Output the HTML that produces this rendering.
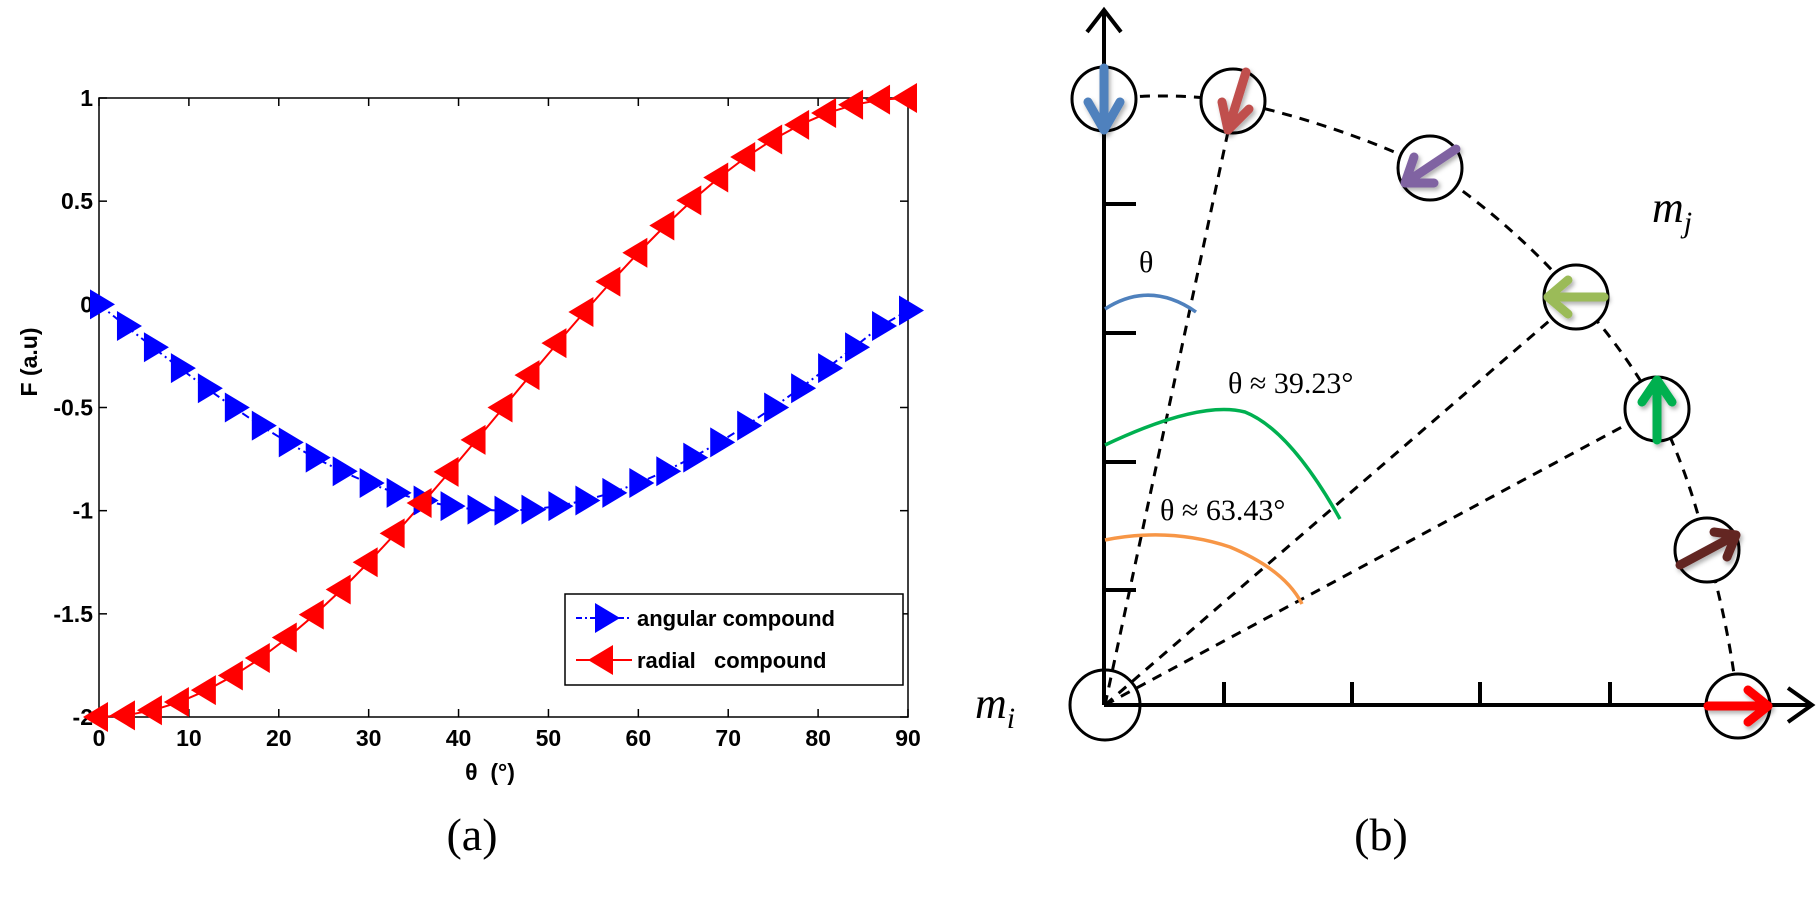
<!DOCTYPE html>
<html><head><meta charset="utf-8">
<style>
html,body{margin:0;padding:0;background:#fff;}
svg{display:block;}
.tk{font-family:"Liberation Sans",sans-serif;font-weight:bold;font-size:23px;fill:#000;}
.lg{font-family:"Liberation Sans",sans-serif;font-weight:bold;font-size:22px;fill:#000;white-space:pre;}
.cap{font-family:"Liberation Serif",serif;font-size:46px;fill:#000;}
.ann{font-family:"Liberation Serif",serif;font-size:30px;fill:#000;}
.mm{font-family:"Liberation Serif",serif;font-style:italic;font-size:44px;fill:#000;}
</style></head>
<body>
<svg id="fig" width="1820" height="910" viewBox="0 0 1820 910" xmlns="http://www.w3.org/2000/svg">
<defs>
<filter id="sh" x="-30%" y="-30%" width="160%" height="160%"><feDropShadow dx="2" dy="3" stdDeviation="2" flood-color="#000" flood-opacity="0.3"/></filter>
</defs>
<g id="chart"></g>
<text class="cap" x="472" y="850" text-anchor="middle">(a)</text>
<text class="cap" x="1381" y="850" text-anchor="middle">(b)</text>

<g>
  <line x1="1104" y1="705" x2="1104" y2="10" stroke="#000" stroke-width="4"/>
  <polyline points="1087,32 1104,10 1121,32" fill="none" stroke="#000" stroke-width="4"/>
  <line x1="1104" y1="705" x2="1812" y2="705" stroke="#000" stroke-width="4"/>
  <polyline points="1788,688 1812,705 1788,722" fill="none" stroke="#000" stroke-width="4"/>
  <g stroke="#000" stroke-width="4">
    <line x1="1104" y1="204" x2="1136" y2="204"/><line x1="1104" y1="333" x2="1136" y2="333"/>
    <line x1="1104" y1="462" x2="1136" y2="462"/><line x1="1104" y1="590" x2="1136" y2="590"/>
    <line x1="1224" y1="705" x2="1224" y2="682"/><line x1="1352" y1="705" x2="1352" y2="682"/>
    <line x1="1480" y1="705" x2="1480" y2="682"/><line x1="1610" y1="705" x2="1610" y2="682"/>
  </g>
  <path d="M1104,99 Q1170,92 1233,101 Q1340,125 1430,168 Q1515,225 1576,297 Q1625,350 1657,409 Q1690,475 1707,550 Q1730,630 1738,706" fill="none" stroke="#000" stroke-width="3" stroke-dasharray="10,8"/>
  <g stroke="#000" stroke-width="3" stroke-dasharray="10,8" fill="none">
    <line x1="1105" y1="705" x2="1229" y2="127"/>
    <line x1="1105" y1="705" x2="1556" y2="315"/>
    <line x1="1105" y1="705" x2="1633" y2="421"/>
  </g>
  <path d="M1105,309 Q1150,280 1196,312" fill="none" stroke="#4f81bd" stroke-width="3.5"/>
  <path d="M1105,445 Q1200,400 1245,412 Q1290,430 1340,519" fill="none" stroke="#00b050" stroke-width="3.5"/>
  <path d="M1105,540 Q1170,527 1230,547 Q1285,570 1302,604" fill="none" stroke="#f79646" stroke-width="3.5"/>
  <text class="ann" x="1139" y="272">θ</text>
  <text class="ann" x="1228" y="393">θ ≈ 39.23°</text>
  <text class="ann" x="1160" y="520">θ ≈ 63.43°</text>
  <g fill="#fff" stroke="#000" stroke-width="3">
    <circle cx="1104" cy="99" r="32"/><circle cx="1233" cy="101" r="32"/>
    <circle cx="1430" cy="168" r="32"/><circle cx="1576" cy="297" r="32"/>
    <circle cx="1657" cy="409" r="32"/><circle cx="1707" cy="550" r="32"/>
    <circle cx="1738" cy="706" r="32"/><circle cx="1105" cy="705" r="35" fill="none"/>
  </g>
  <g fill="none" stroke-width="9" stroke-linecap="round" stroke-linejoin="round" filter="url(#sh)">
    <path d="M1104,68 L1104,130 M1088,102 L1104,130 L1120,102" stroke="#4f81bd"/>
    <path d="M1246,72 L1228,130 M1222,102 L1228,130 L1249,109" stroke="#c0504d"/>
    <path d="M1456,149 L1405,183 M1414,157 L1405,183 L1434,183" stroke="#8064a2"/>
    <path d="M1604,297 L1548,297 M1568,280 L1548,297 L1568,314" stroke="#9bbb59"/>
    <path d="M1657,440 L1657,380 M1642,402 L1657,380 L1672,402" stroke="#00b050"/>
    <path d="M1680,565 L1736,535 M1714,532 L1736,535 L1727,557" stroke="#632523"/>
    <path d="M1708,706 L1768,706 M1748,690 L1768,706 L1748,722" stroke="#ff0000"/>
  </g>
  <text class="mm" x="1652" y="222">m<tspan font-size="30" dy="10">j</tspan></text>
  <text class="mm" x="975" y="718">m<tspan font-size="30" dy="10">i</tspan></text>
</g>
</svg>
<script>
const xValues = [0,3,6,9,12,15,18,21,24,27,30,33,36,39,42,45,48,51,54,57,60,63,66,69,72,75,78,81,84,87,90];
const angularValues = [0,-0.105,-0.208,-0.309,-0.407,-0.5,-0.588,-0.669,-0.743,-0.809,-0.866,-0.914,-0.951,-0.978,-0.995,-1,-0.995,-0.978,-0.951,-0.914,-0.866,-0.809,-0.743,-0.669,-0.588,-0.5,-0.407,-0.309,-0.208,-0.105,-0.03];
const radialValues = [-2,-1.992,-1.967,-1.927,-1.870,-1.799,-1.714,-1.615,-1.504,-1.382,-1.25,-1.110,-0.963,-0.812,-0.657,-0.5,-0.343,-0.188,-0.037,0.110,0.25,0.382,0.504,0.615,0.714,0.799,0.870,0.927,0.967,0.992,1];
const xTicks = [0,10,20,30,40,50,60,70,80,90];
const yTicks = [1,0.5,0,-0.5,-1,-1.5,-2];
const yTickLabels = ["1","0.5","0","-0.5","-1","-1.5","-2"];
const seriesNames = ["angular compound","radial   compound"];

const L=99,R=908,T=98,B=717;
const xs=v=>L+(v-0)/(90-0)*(R-L);
const ys=v=>B-(v-(-2))/(1-(-2))*(B-T);
const NS="http://www.w3.org/2000/svg";
const g=document.getElementById('chart');
function mk(tag,attrs,parent){const e=document.createElementNS(NS,tag);for(const k in attrs)e.setAttribute(k,attrs[k]);(parent||g).appendChild(e);return e;}

const box=mk('rect',{x:L,y:T,width:R-L,height:B-T,fill:'#fff',stroke:'#000','stroke-width':1.5});



xTicks.forEach(t=>{
  const x=xs(t);
  const a=mk('line',{x1:x,y1:B,x2:x,y2:B-8,stroke:'#000','stroke-width':1.5});
  
  
  const b=mk('line',{x1:x,y1:T,x2:x,y2:T+8,stroke:'#000','stroke-width':1.5});
  
  
  const tx=mk('text',{x:x,y:B+29,'text-anchor':'middle',class:'tk'});
  tx.textContent=String(t);
  
  
});
yTicks.forEach((t,i)=>{
  const y=ys(t);
  const a=mk('line',{x1:L,y1:y,x2:L+8,y2:y,stroke:'#000','stroke-width':1.5});
  
  
  const b=mk('line',{x1:R,y1:y,x2:R-8,y2:y,stroke:'#000','stroke-width':1.5});
  
  
  const tx=mk('text',{x:L-6,y:y+8,'text-anchor':'end',class:'tk'});
  tx.textContent=yTickLabels[i];
  
  
});
const xl=mk('text',{x:490,y:780,'text-anchor':'middle',class:'tk','font-size':'28'});
xl.textContent='θ  (°)';


xl.setAttribute('style','white-space:pre');
const yl=mk('text',{x:0,y:0,'text-anchor':'middle',class:'tk','font-size':'30',transform:'translate(37,362) rotate(-90)'});
yl.textContent='F (a.u)';



function tri(cx,cy,dir,color,parent){
  const p = dir>0 ? `${cx-9},${cy-15} ${cx+16},${cy} ${cx-9},${cy+15}` : `${cx+9},${cy-15} ${cx-16},${cy} ${cx+9},${cy+15}`;
  return mk('polygon',{points:p,fill:color},parent);
}
const rl=mk('polyline',{points:xValues.map((x,i)=>xs(x)+','+ys(radialValues[i])).join(' '),fill:'none',stroke:'#ff0000','stroke-width':2});


const al=mk('polyline',{points:xValues.map((x,i)=>xs(x)+','+ys(angularValues[i])).join(' '),fill:'none',stroke:'#0000ff','stroke-width':2,'stroke-dasharray':'8,4,2,4'});


xValues.forEach((x,i)=>{
  const m=tri(xs(x),ys(angularValues[i]),1,'#0000ff');
  
  
});
xValues.forEach((x,i)=>{
  const m=tri(xs(x),ys(radialValues[i]),-1,'#ff0000');
  
  
});
const lg=mk('g',{});


mk('rect',{x:565,y:594,width:338,height:91,fill:'#fff',stroke:'#000','stroke-width':1.5},lg);
const colors=['#0000ff','#ff0000'];
[0,1].forEach(k=>{
  const y=618+k*42;
  const e=mk('g',{},lg);
  
  
  mk('line',{x1:576,y1:y,x2:632,y2:y,stroke:colors[k],'stroke-width':2,'stroke-dasharray':k?'':'6,3,2,3'},e);
  tri(604,y,k?-1:1,colors[k],e);
  const t=mk('text',{x:637,y:y+8,class:'lg'},e);
  t.textContent=seriesNames[k];
});
</script>
</body></html>
